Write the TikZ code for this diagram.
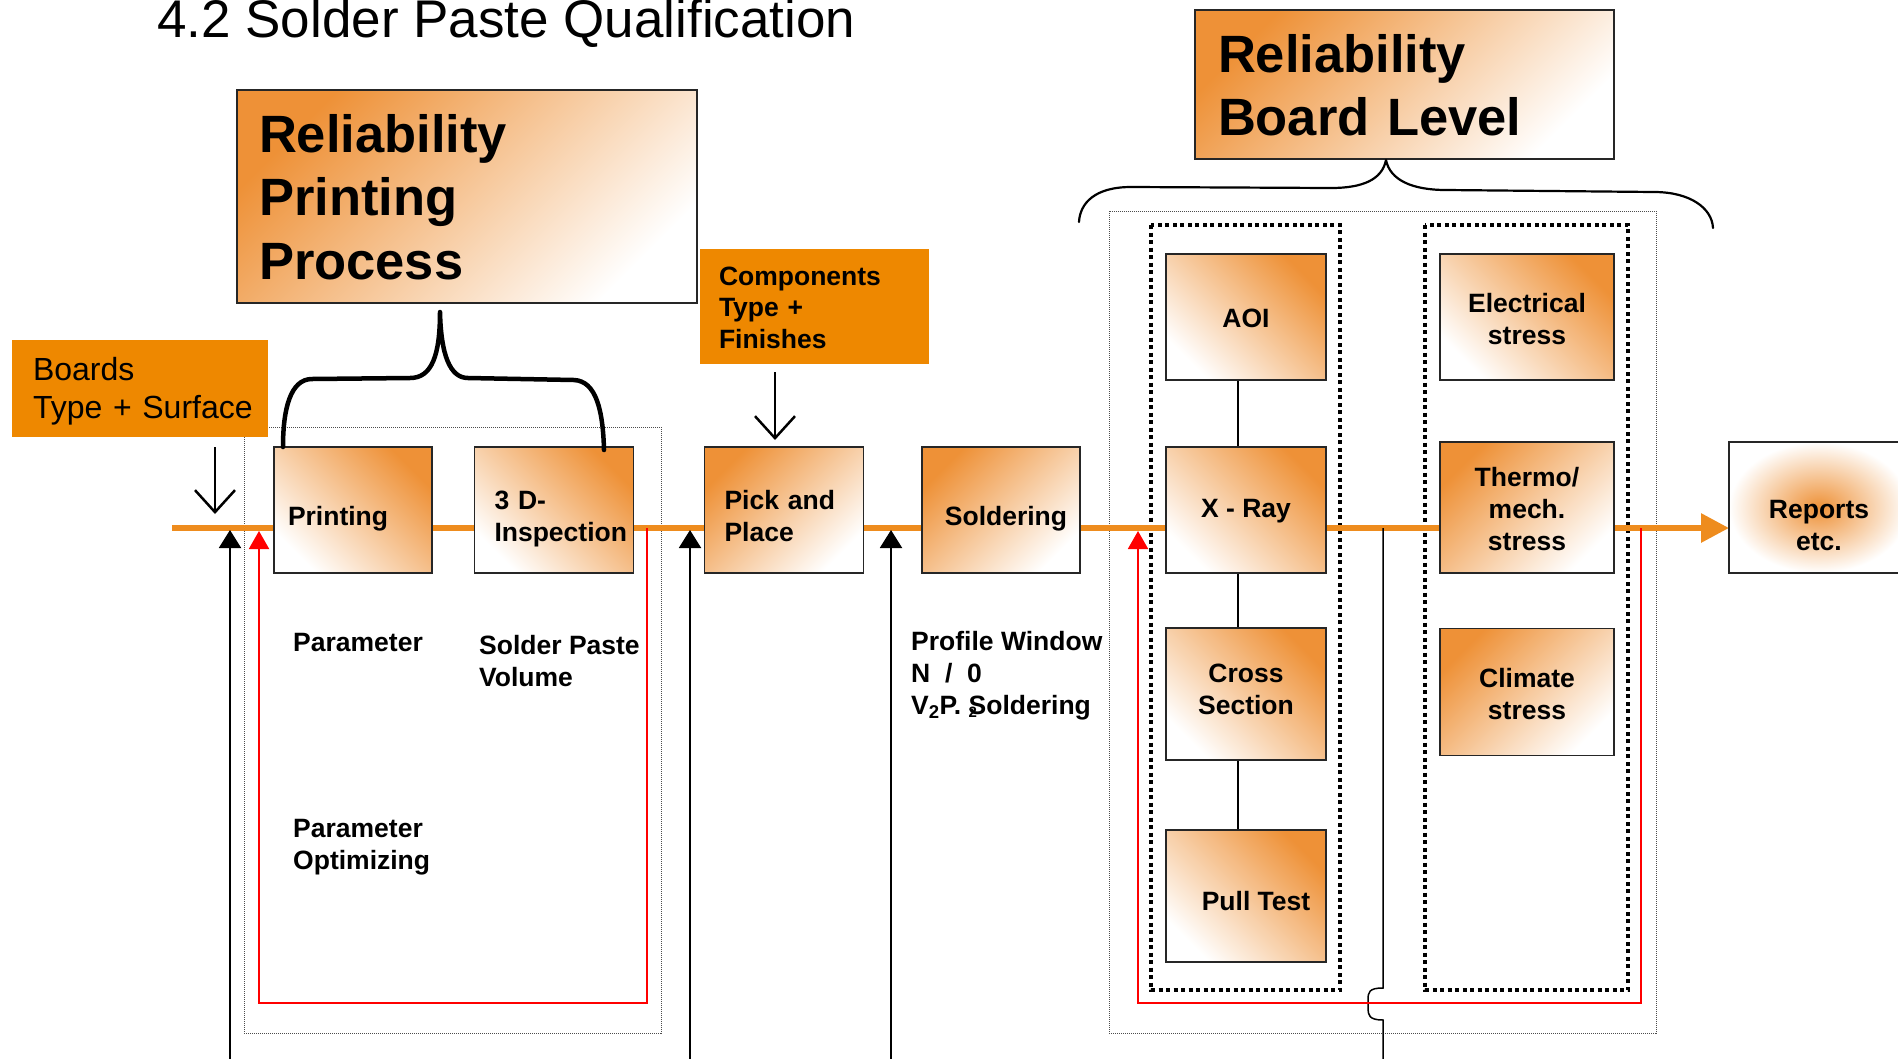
\documentclass[tikz,border=0pt]{standalone}
\usepackage{fontspec}
\setmainfont{Liberation Sans}
\usetikzlibrary{arrows.meta}
\definecolor{orgfill}{RGB}{238,136,0}
\definecolor{orgline}{RGB}{238,140,30}
\definecolor{grador}{RGB}{238,145,55}
\definecolor{fbred}{RGB}{255,0,0}
\begin{document}
\begin{tikzpicture}[x=1pt,y=-1pt,
  gbox/.style={draw=black!85, line width=1.8pt, inner ysep=0pt, inner xsep=4pt,
    font=\fontsize{26.5}{32}\selectfont\bfseries, align=center},
  shTR/.style={top color=grador, bottom color=white, shading angle=-45},
  shTL/.style={top color=grador, bottom color=white, shading angle=45},
  bigbox/.style={draw=black!85, line width=1.8pt, inner ysep=0pt,
    top color=grador, bottom color=white, shading angle=45,
    font=\fontsize{52.5}{63.5}\selectfont\bfseries, align=left},
  inbox/.style={fill=orgfill, inner ysep=0pt, align=left},
  lbl/.style={inner sep=0pt, font=\fontsize{26.5}{32}\selectfont\bfseries, align=left},
  grpdot/.style={black!70, line width=1pt, densely dotted},
  grpdash/.style={black, line width=4pt, dash pattern=on 4pt off 3.5pt},
  flow/.style={orgline, line width=6pt},
  uparr/.style={black, line width=2pt, -{Triangle[length=18pt,width=22pt]}},
  downarr/.style={black, line width=2.5pt, -{Straight Barb[length=22pt,width=40pt]}},
  fbarr/.style={fbred, line width=2pt, -{Triangle[length=18pt,width=20pt]}},
  conn/.style={black, line width=1.5pt},
  brace/.style={black, line cap=round, line join=round}
]
\useasboundingbox (0,0) rectangle (1898,1058);

% title
\node[anchor=base west, inner sep=0pt, font=\fontsize{53}{60}\selectfont] (title) at (157,37) {4.2 Solder Paste Qualification};

% group frames
\draw[grpdot] (244,427) rectangle (661,1033);
\draw[grpdot] (1109,211) rectangle (1656,1033);
\draw[grpdash] (1151,225) rectangle (1340,990);
\draw[grpdash] (1425,225) rectangle (1628,990);

% main flow line (behind boxes)
\coordinate (lstart) at (172,528);
\coordinate (reportsW) at (1729,528);
\draw[flow, -{Triangle[length=28pt,width=28pt]}] (lstart) -- (reportsW);

% input boxes
\node[inbox, minimum width=256pt, minimum height=97pt, text width=214pt, inner xsep=21pt,
  text height=36.5pt, text depth=53.5pt,
  font=\fontsize{32}{38}\selectfont] (boards) at (140,388.5) {\mbox{Boards}\\\mbox{Type + Surface}};
\node[inbox, minimum width=229pt, minimum height=115pt, text width=191pt, inner xsep=19pt,
  text height=23.5pt, text depth=66.5pt,
  font=\fontsize{26.5}{31.5}\selectfont\bfseries] (comps) at (814.5,306.5) {Components\\Type +\\Finishes};

% headline boxes
\node[bigbox, minimum width=460pt, minimum height=213pt, text width=416pt, inner xsep=22pt,
  text height=0.5pt, text depth=89.5pt] (relprint) at (467,196.5) {Reliability\\Printing\\Process};
\node[bigbox, minimum width=419pt, minimum height=149pt, text width=373pt, inner xsep=23pt,
  text height=32.5pt, text depth=57.5pt] (relboard) at (1404.5,84.5) {Reliability\\Board Level};

% process boxes
\node[gbox, shTR, minimum width=158pt, minimum height=126pt, text width=130pt, inner xsep=14pt, align=left,
  text height=60pt, text depth=30pt] (print) at (353,510) {\mbox{Printing}};
\node[gbox, shTR, minimum width=159pt, minimum height=126pt, text width=119pt, inner xsep=20pt, align=left,
  text height=44pt, text depth=46pt] (insp) at (554,510) {\mbox{3 D-}\\\mbox{Inspection}};
\node[gbox, shTL, minimum width=159pt, minimum height=126pt, text width=119pt, inner xsep=20pt, align=left,
  text height=44pt, text depth=46pt] (pick) at (784,510) {\mbox{Pick and}\\\mbox{Place}};
\node[gbox, shTL, minimum width=158pt, minimum height=126pt,
  text height=60pt, text depth=30pt] (sold) at (1001,510) {\hspace*{10pt}Soldering};

% test boxes
\node[gbox, shTR, minimum width=160pt, minimum height=126pt,
  text height=55pt, text depth=35pt] (aoi) at (1246,317) {AOI};
\node[gbox, shTR, minimum width=160pt, minimum height=126pt,
  text height=52pt, text depth=38pt] (xray) at (1246,510) {X - Ray};
\node[gbox, shTR, minimum width=160pt, minimum height=132pt,
  text height=65pt, text depth=25pt] (cross) at (1246,694) {Cross\\Section};
\node[gbox, shTR, minimum width=160pt, minimum height=132pt,
  text height=59pt, text depth=31pt] (pull) at (1246,896) {\hspace*{20pt}Pull Test};

% stress boxes
\node[gbox, shTR, minimum width=174pt, minimum height=126pt,
  text height=72pt, text depth=18pt] (elec) at (1527,317) {Electrical\\stress};
\node[gbox, shTL, minimum width=174pt, minimum height=131pt,
  text height=87.5pt, text depth=2.5pt] (thermo) at (1527,507.5) {Thermo/\\mech.\\stress};
\node[gbox, shTL, minimum width=174pt, minimum height=127pt,
  text height=72pt, text depth=18pt] (climate) at (1527,692) {Climate\\stress};

% reports
\node[gbox, inner color=grador, outer color=white, minimum width=180pt, minimum height=131pt,
  text height=87.5pt, text depth=2.5pt] (reports) at (1819,507.5) {Reports\\etc.};

% connectors between test boxes
\coordinate (cx) at (1238,0);
\draw[conn] (aoi.south -| cx) -- (xray.north -| cx);
\draw[conn] (xray.south -| cx) -- (cross.north -| cx);
\draw[conn] (cross.south -| cx) -- (pull.north -| cx);

% input arrows from below
\coordinate (in1) at (230,1060);
\coordinate (in2) at (690,1060);
\coordinate (in3) at (891,1060);
\draw[uparr] (in1) -- (230,530);
\draw[uparr] (in2) -- (690,530);
\draw[uparr] (in3) -- (891,530);

% line with bridge over red feedback
\coordinate (in4) at (1383,1060);
\coordinate (in4top) at (1383,528);
\draw[black, line width=1.5pt] (in4) -- (1383,1020)
  .. controls (1369,1020) and (1368,1015) .. (1368,1008) -- (1368,1000)
  .. controls (1368,992) and (1369,988) .. (1383,988) -- (in4top);

% feedback loops
\coordinate (fb1s) at (647,528);
\coordinate (fb1e) at (259,531);
\draw[fbarr] (fb1s) -- (647,1003) -- (259,1003) -- (fb1e);
\coordinate (fb2s) at (1641,528);
\coordinate (fb2e) at (1138,531);
\draw[fbarr] (fb2s) -- (1641,1003) -- (1138,1003) -- (fb2e);

% down arrows from inputs
\coordinate (bdA) at (215,447);
\coordinate (bdB) at (215,514);
\draw[downarr] (bdA) -- (bdB);
\coordinate (cdA) at (775,372);
\coordinate (cdB) at (775,440);
\draw[downarr] (cdA) -- (cdB);

% braces
\draw[brace, line width=4.5pt] (283,447) .. controls (283,410) and (290,379) .. (312,379)
  -- (410,378) .. controls (432,378) and (440,355) .. (440,312)
  .. controls (441,355) and (450,378) .. (468,378)
  -- (574,380) .. controls (596,381) and (603,410) .. (604,450);
\draw[brace, line width=2.2pt] (1079,222) .. controls (1080,203) and (1095,187) .. (1131,187)
  -- (1331,188) .. controls (1362,188) and (1382,180) .. (1386,160)
  .. controls (1390,180) and (1412,190) .. (1446,190)
  -- (1654,192) .. controls (1690,192) and (1712,208) .. (1713,228);

% annotations (base anchor = baseline of the last line)
\node[lbl, anchor=base west] (par1) at (293,651) {Parameter};
\node[lbl, anchor=base west] (spv) at (479,686) {Solder Paste\\Volume};
\node[lbl, anchor=base west] (paro) at (293,869) {Parameter\\Optimizing};
\node[lbl, anchor=base west] (prof) at (911,714) {Profile Window\\N\ \ /\ \ 0\\V\textsubscript{2}P. \rlap{\raisebox{-3pt}{\fontsize{15}{15}\selectfont 2}}Soldering};
\end{tikzpicture}
\end{document}
